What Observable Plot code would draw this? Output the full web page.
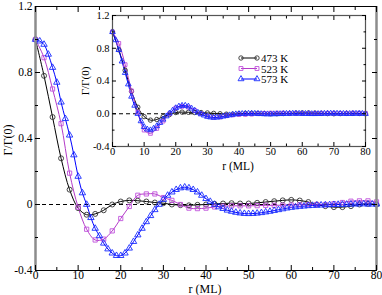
<!DOCTYPE html>
<html><head><meta charset="utf-8">
<script src="https://cdn.jsdelivr.net/npm/d3@7"></script>
<script src="https://cdn.jsdelivr.net/npm/@observablehq/plot@0.6"></script>
<style>
body{margin:0;background:#fff;}
#wrap{position:relative;width:382px;height:295px;background:#fff;}
#wrap svg{position:absolute;left:0;top:0;}
#wrap svg text{font-family:'Liberation Serif','Times New Roman',serif;}
</style></head><body><div id="wrap"></div>
<script>
// ---- data ----
const seriesNames = ["473 K", "523 K", "573 K"];
const rEven = [0,2,4,6,8,10,12,14,16,18,20,22,24,26,28,30,32,34,36,38,40,42,44,46,48,50,52,54,56,58,60,62,64,66,68,70,72,74,76,78,80];
const rAll = [0,1,2,3,4,5,6,7,8,9,10,11,12,13,14,15,16,17,18,19,20,21,22,23,24,25,26,27,28,29,30,31,32,33,34,35,36,37,38,39,40,41,42,43,44,45,46,47,48,49,50,51,52,53,54,55,56,57,58,59,60,61,62,63,64,65,66,67,68,69,70,71,72,73,74,75,76,77,78,79,80];

// main panel
const main473 = [1.0,0.78,0.53,0.28,0.09,-0.022,-0.062,-0.057,-0.035,0.0,0.018,0.025,0.023,0.018,0.012,0.008,0.0,-0.004,-0.005,-0.002,0.0,0.004,0.006,0.008,0.006,0.006,0.01,0.015,0.02,0.025,0.028,0.024,0.015,0.0,-0.01,-0.016,-0.016,-0.01,0.0,0.004,0.0];
const main523 = [1.0,0.89,0.70,0.49,0.19,-0.016,-0.15,-0.215,-0.21,-0.16,-0.085,-0.012,0.056,0.064,0.064,0.042,0.025,0.0,-0.022,-0.025,-0.022,-0.015,-0.01,-0.008,-0.008,-0.008,-0.007,-0.005,-0.005,-0.004,-0.003,-0.002,0.0,0.0,0.0,0.005,0.012,0.02,0.022,0.022,0.016];
const main573 = [1.0,0.99,0.97,0.91,0.83,0.74,0.62,0.52,0.42,0.30,0.17,0.07,0.0,-0.08,-0.145,-0.19,-0.235,-0.27,-0.295,-0.31,-0.31,-0.295,-0.265,-0.225,-0.185,-0.145,-0.105,-0.068,-0.032,0.0,0.03,0.055,0.075,0.09,0.1,0.105,0.1,0.09,0.075,0.055,0.035,0.018,0.0,-0.015,-0.025,-0.035,-0.042,-0.048,-0.052,-0.055,-0.056,-0.055,-0.053,-0.05,-0.046,-0.042,-0.037,-0.032,-0.027,-0.022,-0.018,-0.015,-0.012,-0.01,-0.008,-0.006,-0.005,-0.004,-0.003,-0.002,-0.001,0.0,0.0,0.001,0.002,0.002,0.003,0.003,0.002,0.002,0.002];

// inset panel
const inset473 = [1.0,0.78,0.53,0.275,0.08,-0.035,-0.078,-0.07,-0.035,-0.01,0.015,0.02,0.018,0.015,0.015,0.01,0.005,0.0,-0.005,-0.005,0.0,0.003,0.005,0.005,0.003,0.0,0.0,0.003,0.005,0.008,0.01,0.01,0.008,0.005,0.002,0.0,0.002,0.005,0.005,0.003,0.0];
const inset523 = [1.0,0.86,0.60,0.28,0.02,-0.2,-0.24,-0.18,-0.09,0.0,0.07,0.09,0.08,0.04,0.0,-0.03,-0.045,-0.04,-0.025,-0.015,-0.01,-0.008,-0.005,0.0,0.005,0.008,0.008,0.008,0.006,0.005,0.004,0.004,0.005,0.006,0.007,0.006,0.005,0.006,0.008,0.008,0.006];
const inset573 = [1.0,0.9,0.78,0.64,0.5,0.36,0.21,0.1,0.0,-0.09,-0.16,-0.19,-0.2,-0.18,-0.15,-0.11,-0.07,-0.03,0.005,0.04,0.07,0.09,0.1,0.1,0.09,0.065,0.04,0.015,-0.005,-0.02,-0.035,-0.043,-0.047,-0.045,-0.04,-0.032,-0.025,-0.017,-0.01,-0.005,-0.002,0.0,0.002,0.003,0.003,0.002,0.0,-0.002,-0.004,-0.005,-0.005,-0.004,-0.003,-0.002,0.0,0.001,0.002,0.003,0.003,0.002,0.001,0.0,-0.001,-0.002,-0.002,-0.001,0.0,0.002,0.003,0.004,0.004,0.003,0.002,0.001,0.0,0.0,0.001,0.002,0.002,0.001,0.0];

// ticks
const xMajor = [0,10,20,30,40,50,60,70,80];
const xMinor = [5,15,25,35,45,55,65,75];
const xLabels = ["0","10","20","30","40","50","60","70","80"];
const mainYMajor = [-0.4,0,0.4,0.8,1.2];
const mainYMinor = [-0.2,0.2,0.6,1.0];
const mainYLabels = ["-0.4","0","0.4","0.8","1.2"];
const insetYMajor = [-0.4,0,0.4,0.8,1.2];
const insetYMinor = [-0.2,0.2,0.6,1.0];
const insetYLabels = ["-0.4","0.0","0.4","0.8","1.2"];

const colors = ["#000000", "#b43cc8", "#0000ff"];
const markColors = ["#333333", "#c050dc", "#1a2cff"];
const symbols = ["circle", "square", "triangle"];

const toRows = (rs, vs) => rs.map((r, i) => ({r, v: vs[i]}));
const mainData = [toRows(rEven, main473), toRows(rEven, main523), toRows(rAll, main573)];
const insetData = [toRows(rEven, inset473), toRows(rEven, inset523), toRows(rAll, inset573)];

const font = "'Liberation Serif', 'Times New Roman', serif";
const blank = () => "";

function seriesMarks(data, rad) {
  const m = [];
  data.forEach((d, i) => {
    m.push(Plot.line(d, {x: "r", y: "v", stroke: colors[i], strokeWidth: 1, curve: "catmull-rom"}));
  });
  data.forEach((d, i) => {
    m.push(Plot.dot(d, {x: "r", y: "v", symbol: symbols[i], r: i === 0 ? rad : rad * 0.95, stroke: markColors[i], fill: "none", strokeWidth: 0.9}));
  });
  return m;
}

function axesMarks(yMajor, yMinor, yLabels, fs, maj, min, xpad) {
  return [
    Plot.axisX({ticks: xMajor, tickSize: -maj, tickFormat: blank, label: null}),
    Plot.axisX({ticks: xMinor, tickSize: -min, tickFormat: blank, label: null}),
    Plot.axisX({anchor: "top", ticks: xMajor, tickSize: -maj, tickFormat: blank, label: null}),
    Plot.axisX({anchor: "top", ticks: xMinor, tickSize: -min, tickFormat: blank, label: null}),
    Plot.axisY({ticks: yMajor, tickSize: -maj, tickFormat: blank, label: null}),
    Plot.axisY({ticks: yMinor, tickSize: -min, tickFormat: blank, label: null}),
    Plot.axisY({anchor: "right", ticks: yMajor, tickSize: -maj, tickFormat: blank, label: null}),
    Plot.axisY({anchor: "right", ticks: yMinor, tickSize: -min, tickFormat: blank, label: null}),
    Plot.axisX({ticks: xMajor, tickSize: 0, tickPadding: xpad, tickFormat: d => xLabels[xMajor.indexOf(d)], label: null, fontSize: fs, fill: "black", fontFamily: font}),
    Plot.axisY({ticks: yMajor, tickSize: 0, tickPadding: 3, tickFormat: d => yLabels[yMajor.indexOf(d)], label: null, fontSize: fs, fill: "black", fontFamily: font})
  ];
}

const mainPlot = Plot.plot({
  width: 382, height: 295,
  marginLeft: 35, marginRight: 6, marginTop: 6, marginBottom: 25,
  style: {fontFamily: font, fontSize: "12px", background: "transparent", color: "black"},
  x: {domain: [0, 80]},
  y: {domain: [-0.4, 1.2]},
  marks: [
    Plot.ruleY([0], {stroke: "black", strokeDasharray: "4,3", strokeWidth: 1}),
    ...seriesMarks(mainData, 2.5),
    Plot.ruleY([-0.4, 1.2], {stroke: "black", strokeWidth: 1}),
    Plot.ruleX([0, 80], {stroke: "#8c8c8c", strokeWidth: 2.5}),
    ...axesMarks(mainYMajor, mainYMinor, mainYLabels, 11.5, 5, 3, 0)
  ]
});

const insetPlot = Plot.plot({
  width: 382, height: 295,
  marginLeft: 112, marginRight: 17, marginTop: 15, marginBottom: 149,
  style: {fontFamily: font, fontSize: "10px", background: "transparent", color: "black"},
  x: {domain: [0, 80]},
  y: {domain: [-0.4, 1.2]},
  marks: [
    Plot.frame({fill: "white", stroke: null}),
    Plot.ruleY([0], {stroke: "black", strokeDasharray: "4,3", strokeWidth: 1}),
    ...seriesMarks(insetData, 2.2),
    Plot.frame({stroke: "#555", strokeWidth: 1.2}),
    ...axesMarks(insetYMajor, insetYMinor, insetYLabels, 10.5, 4, 2.5, 1)
  ]
});

const wrap = document.getElementById("wrap");
wrap.appendChild(mainPlot);
wrap.appendChild(insetPlot);

// titles and legend
const ov = d3.select(wrap).append("svg").attr("width", 382).attr("height", 295)
  .style("font-family", font);
ov.append("text").attr("x", 205).attr("y", 288.5).attr("text-anchor", "middle").attr("dominant-baseline", "central")
  .attr("font-size", 12).text("r (ML)");
ov.append("text").attr("transform", "translate(8,140) rotate(-90)").attr("text-anchor", "middle").attr("dominant-baseline", "central")
  .attr("font-size", 12).text("Γ/Γ(0)");
ov.append("text").attr("x", 238).attr("y", 165.5).attr("text-anchor", "middle").attr("dominant-baseline", "central")
  .attr("font-size", 11.5).text("r (ML)");
ov.append("text").attr("transform", "translate(85,81) rotate(-90)").attr("text-anchor", "middle").attr("dominant-baseline", "central")
  .attr("font-size", 11).text("Γ/Γ(0)");

const legRowsY = [58, 68.5, 79];
seriesNames.forEach((name, i) => {
  const g = ov.append("g").attr("transform", `translate(0,${legRowsY[i]})`);
  g.append("line").attr("x1", 241).attr("x2", 257).attr("y1", 0).attr("y2", 0).attr("stroke", colors[i]).attr("stroke-width", 1);
  const sym = d3.symbol().type(i === 0 ? d3.symbolCircle : i === 1 ? d3.symbolSquare : d3.symbolTriangle).size(Math.PI * 2.2 * 2.2);
  [241, 257].forEach(x => g.append("path").attr("d", sym()).attr("transform", `translate(${x},0)`)
    .attr("fill", "none").attr("stroke", markColors[i]).attr("stroke-width", 0.9));
  g.append("text").attr("x", 261).attr("y", 0).attr("dominant-baseline", "central").attr("font-size", 11).text(name);
});
</script></body></html>
